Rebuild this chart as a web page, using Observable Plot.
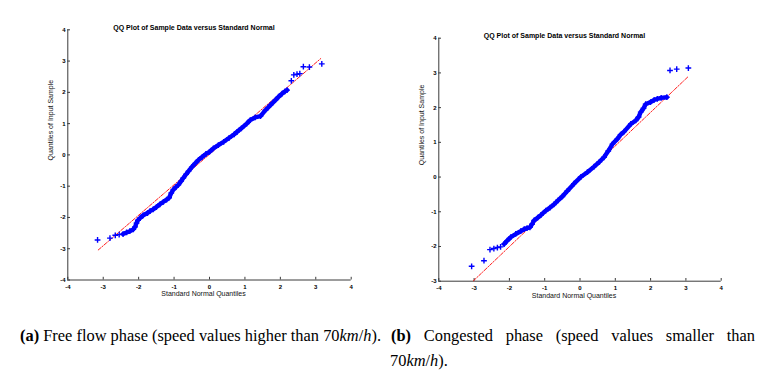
<!DOCTYPE html>
<html>
<head>
<meta charset="utf-8">
<script src="https://cdn.jsdelivr.net/npm/d3@7"></script>
<script src="https://cdn.jsdelivr.net/npm/@observablehq/plot@0.6"></script>
<style>
  html, body { margin: 0; padding: 0; background: #fff; }
  #page { position: relative; width: 767px; height: 377px; overflow: hidden; background: #fff; }
  .panel { position: absolute; top: 0; }
  .cap { position: absolute; font-family: "Liberation Serif", "Times New Roman", serif; font-size: 16.4px; line-height: 20px; color: #000; white-space: nowrap; }
  #capA { left: 20px; top: 326px; }
  #capB1 { left: 391px; top: 326px; width: 364px; text-align: justify; text-align-last: justify; white-space: normal; }
  #capB2 { left: 390px; top: 351px; }
  i { font-style: italic; }
</style>
</head>
<body>
<div id="page">
  <div id="panelA" class="panel" style="left:0px"></div>
  <div id="panelB" class="panel" style="left:383px"></div>
  <div id="capA" class="cap"><b>(a)</b> Free flow phase (speed values higher than 70<i>km</i>/<i>h</i>).</div>
  <div id="capB1" class="cap"><b>(b)</b> Congested phase (speed values smaller than</div>
  <div id="capB2" class="cap">70<i>km</i>/<i>h</i>).</div>
</div>
<script>
// ---------- text ----------
const titleText = "QQ Plot of Sample Data versus Standard Normal";
const xLabelText = "Standard Normal Quantiles";
const yLabelText = "Quantiles of Input Sample";

// ---------- ticks ----------
const xTicks = [-4, -3, -2, -1, 0, 1, 2, 3, 4];
const yTicksA = [-4, -3, -2, -1, 0, 1, 2, 3, 4];
const yTicksB = [-3, -2, -1, 0, 1, 2, 3, 4];

// ---------- panel (a): free flow ----------
const aBodyX = [-2.44, -2.34, -2.25, -2.15, -2.10, -2.06, -2.02, -1.96, -1.87, -1.75, -1.68, -1.59, -1.50, -1.40, -1.30, -1.21, -1.14, -1.08, -1.02, -0.95, -0.88, -0.80, -0.74, -0.66, -0.59, -0.50, -0.40, -0.31, -0.20, -0.10, 0.00, 0.11, 0.25, 0.40, 0.55, 0.70, 0.78, 0.90, 1.05, 1.15, 1.29, 1.44, 1.58, 1.72, 1.86, 1.95, 2.05, 2.13, 2.19];
const aBodyY = [-2.53, -2.48, -2.44, -2.38, -2.30, -2.18, -2.09, -2.02, -1.93, -1.86, -1.80, -1.74, -1.67, -1.58, -1.50, -1.43, -1.37, -1.22, -1.11, -1.03, -0.96, -0.84, -0.74, -0.62, -0.52, -0.39, -0.27, -0.16, -0.06, 0.03, 0.10, 0.21, 0.31, 0.42, 0.54, 0.66, 0.74, 0.85, 1.00, 1.11, 1.20, 1.24, 1.43, 1.59, 1.75, 1.86, 1.96, 2.03, 2.07];
const aTailX = [-3.16, -2.81, -2.66, -2.55, 2.31, 2.38, 2.47, 2.55, 2.65, 2.82, 3.17];
const aTailY = [-2.72, -2.66, -2.57, -2.55, 2.37, 2.56, 2.58, 2.60, 2.82, 2.81, 2.91];
const aRefX = [-3.14, 3.14];
const aRefY = [-3.04, 3.08];

// ---------- panel (b): congested ----------
const bBodyX = [-2.15, -2.06, -1.96, -1.82, -1.68, -1.58, -1.50, -1.42, -1.36, -1.30, -1.20, -1.11, -0.97, -0.85, -0.74, -0.62, -0.50, -0.36, -0.17, 0.02, 0.21, 0.40, 0.55, 0.68, 0.80, 0.92, 1.06, 1.15, 1.25, 1.44, 1.58, 1.66, 1.72, 1.80, 1.86, 2.00, 2.10, 2.19, 2.30, 2.46];
const bBodyY = [-1.93, -1.83, -1.73, -1.64, -1.56, -1.50, -1.47, -1.45, -1.36, -1.25, -1.17, -1.10, -0.97, -0.88, -0.79, -0.67, -0.56, -0.40, -0.19, 0.00, 0.14, 0.30, 0.44, 0.57, 0.75, 0.95, 1.10, 1.22, 1.31, 1.53, 1.63, 1.73, 1.87, 1.98, 2.10, 2.16, 2.22, 2.25, 2.28, 2.30];
const bTailX = [-3.07, -2.72, -2.55, -2.44, -2.34, -2.25, 2.55, 2.74, 3.07];
const bTailY = [-2.57, -2.41, -2.09, -2.06, -2.03, -2.01, 3.07, 3.11, 3.14];
const bRefX = [-3.02, 3.05];
const bRefY = [-2.99, 2.88];

const BLUE = "#0000ff";
const RED = "#ff0000";
const AXIS = "#3a3a3a";

const zip = (xs, ys) => xs.map((x, i) => ({x, y: ys[i]}));

function panel(cfg) {
  const body = zip(cfg.bodyX, cfg.bodyY);
  const tail = zip(cfg.tailX, cfg.tailY);
  const ref = zip(cfg.refX, cfg.refY);
  return Plot.plot({
    width: cfg.width,
    height: 310,
    marginLeft: cfg.ml, marginRight: cfg.mr, marginTop: cfg.mt, marginBottom: cfg.mb,
    style: {fontFamily: "'Liberation Sans', Arial, sans-serif", fontSize: "6px", background: "transparent", color: "#000"},
    x: {domain: [-4, 4], axis: null},
    y: {domain: cfg.yDomain, axis: null},
    marks: [
      Plot.ruleX([-4], {stroke: AXIS, strokeWidth: 1}),
      Plot.ruleY([cfg.yDomain[0]], {stroke: AXIS, strokeWidth: 1}),
      Plot.axisX(xTicks, {anchor: "bottom", label: null, tickSize: -2.7, tickPadding: 7, stroke: AXIS, fill: "#000", fontWeight: "bold", tickFormat: d => String(d)}),
      Plot.axisY(cfg.yTicks, {anchor: "left", label: null, tickSize: -2.7, tickPadding: 5, stroke: AXIS, fill: "#000", fontWeight: "bold", tickFormat: d => String(d)}),
      Plot.line(ref, {x: "x", y: "y", stroke: RED, strokeWidth: 0.9, strokeDasharray: "3.5,1.5,1,1.5"}),
      Plot.line(body, {x: "x", y: "y", stroke: BLUE, strokeWidth: 4.4, strokeLinecap: "round", strokeLinejoin: "round"}),
      Plot.dot(body, {x: "x", y: "y", symbol: "plus", r: 2.0, stroke: BLUE, strokeWidth: 1.4}),
      Plot.dot(tail, {x: "x", y: "y", symbol: "plus", r: 2.0, stroke: BLUE, strokeWidth: 1.4}),
      Plot.text([titleText], {text: d => d, frameAnchor: "top", dx: -15.5, dy: -4.8, fontSize: 7, fontWeight: "bold", fill: "#000"}),
      Plot.text([xLabelText], {text: d => d, frameAnchor: "bottom", dx: -6, dy: 16.3, fontSize: 7, fill: "#111"}),
      Plot.text([yLabelText], {text: d => d, frameAnchor: "left", dx: cfg.ylDx, dy: 5.5, rotate: -90, fontSize: 7, fill: "#111"})
    ]
  });
}

document.getElementById("panelA").appendChild(panel({
  width: 383, ml: 67.3, mr: 32.3, mt: 29.3, mb: 30.5,
  yDomain: [-4, 4], yTicks: yTicksA, ylDx: -17.5,
  bodyX: aBodyX, bodyY: aBodyY, tailX: aTailX, tailY: aTailY, refX: aRefX, refY: aRefY
}));
document.getElementById("panelB").appendChild(panel({
  width: 384, ml: 55.3, mr: 46.3, mt: 37.7, mb: 29.3,
  yDomain: [-3, 4], yTicks: yTicksB, ylDx: -16.6,
  bodyX: bBodyX, bodyY: bBodyY, tailX: bTailX, tailY: bTailY, refX: bRefX, refY: bRefY
}));
</script>
</body>
</html>
